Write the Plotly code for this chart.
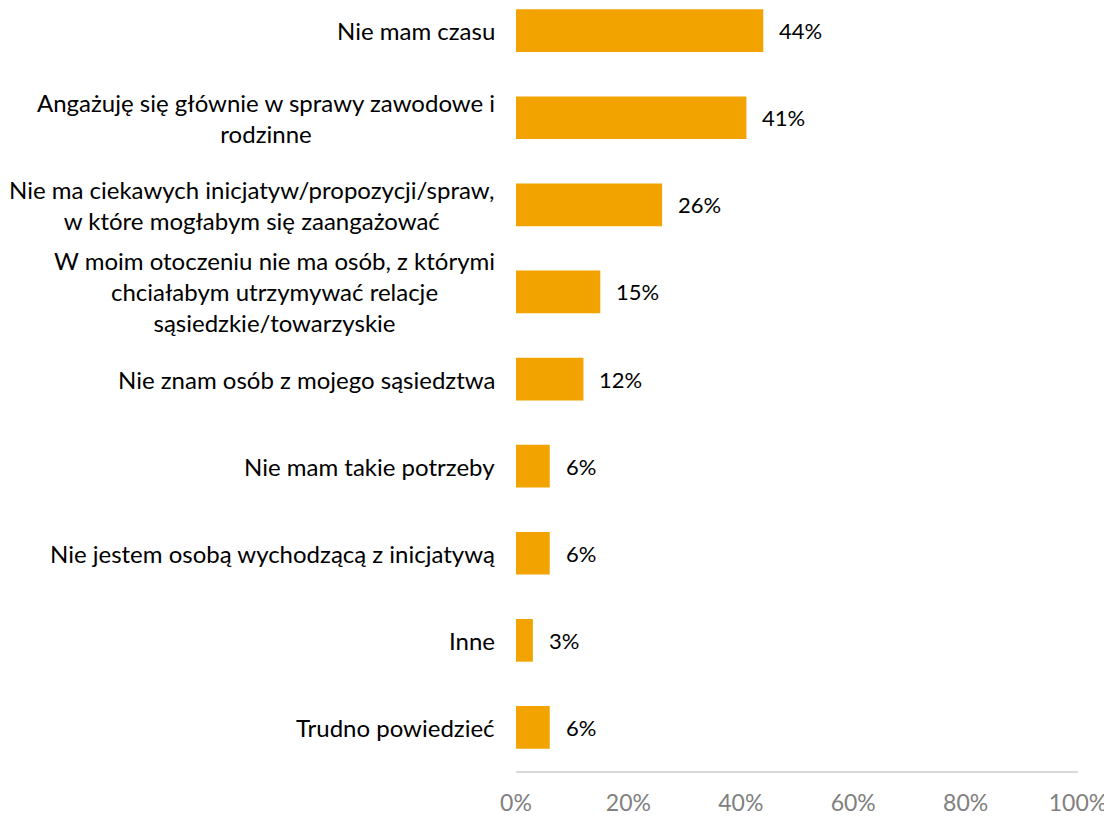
import plotly.graph_objects as go

categories = [
    "Nie mam czasu",
    "Angażuję się głównie w sprawy zawodowe i<br>rodzinne",
    "Nie ma ciekawych inicjatyw/propozycji/spraw,<br>w które mogłabym się zaangażować",
    "W moim otoczeniu nie ma osób, z którymi<br>chciałabym utrzymywać relacje<br>sąsiedzkie/towarzyskie",
    "Nie znam osób z mojego sąsiedztwa",
    "Nie mam takie potrzeby",
    "Nie jestem osobą wychodzącą z inicjatywą",
    "Inne",
    "Trudno powiedzieć",
]
values = [44, 41, 26, 15, 12, 6, 6, 3, 6]
tick_vals = [0, 20, 40, 60, 80, 100]
tick_text = ["0%", "20%", "40%", "60%", "80%", "100%"]

FONT = "Lato"
fig = go.Figure()
fig.add_trace(go.Bar(
    x=values, y=categories, orientation="h",
    marker=dict(color="#F2A300", line=dict(width=0)),
    width=0.49,
    hoverinfo="skip",
))

for c, v in zip(categories, values):
    fig.add_annotation(x=v, y=c, xref="x", yref="y", text=f"{v}%",
                       showarrow=False, xanchor="left", xshift=14,
                       font=dict(family=FONT, size=22, color="#000000"))
    fig.add_annotation(x=0, y=c, xref="paper", yref="y", text=c,
                       showarrow=False, xanchor="right", xshift=-19,
                       align="center",
                       font=dict(family=FONT, size=24, color="#000000"))

fig.update_layout(
    width=1104, height=808,
    margin=dict(l=508, r=34, t=0, b=36),
    paper_bgcolor="white", plot_bgcolor="white",
    showlegend=False,
    font=dict(family=FONT),
    xaxis=dict(range=[0, 100], tickvals=tick_vals, ticktext=tick_text,
               showgrid=False, zeroline=False, showline=True,
               linecolor="#d9d9d9", linewidth=2,
               tickfont=dict(family=FONT, size=23, color="#808080"),
               ticks="", ticklabelstandoff=10, ticklabeloverflow="allow",
               fixedrange=True),
    yaxis=dict(categoryorder="array", categoryarray=categories,
               range=[8.5, -0.26], showticklabels=False, showgrid=False,
               zeroline=False, showline=False, fixedrange=True),
)

fig.write_html("out.html")
